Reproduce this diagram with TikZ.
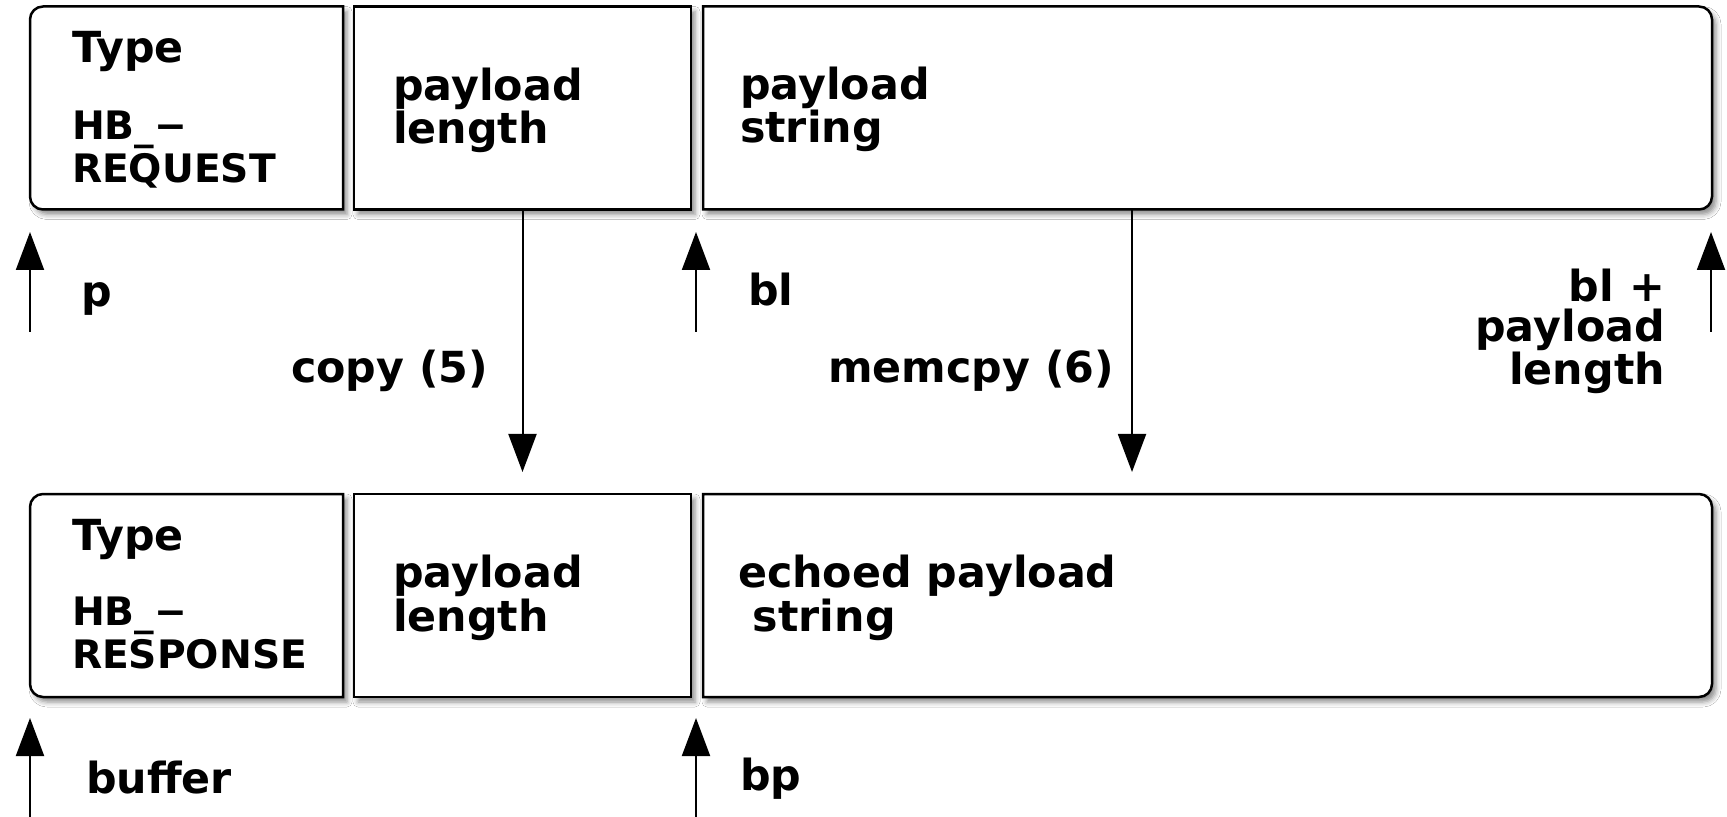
\documentclass[tikz,border=0pt]{standalone}
\usepackage{fontspec}
\setmainfont{DejaVu Sans}
\usetikzlibrary{arrows.meta,shadows.blur}

\tikzset{
  field/.style={rectangle, draw=none, inner sep=0pt, outer sep=0pt,
    minimum height=101.5pt, anchor=north west},
  fieldline/.style={line width=1.25pt, fill=white, line join=miter,
    blur shadow={shadow xshift=2pt, shadow yshift=-2.5pt,
      shadow blur radius=2.5pt, shadow opacity=45}},
  txt/.style={font=\bfseries\fontsize{21.4}{20.5}\selectfont,
    inner sep=0pt, outer sep=0pt, anchor=base west, align=left},
  txtr/.style={txt, anchor=base east, align=right,
    font=\bfseries\fontsize{21.4}{20}\selectfont},
  typetxt/.style={txt, font=\bfseries\fontsize{19.6}{21.5}\selectfont},
  ptr/.style={line width=1pt, draw=black, opacity=1,
    -{Triangle[width=14pt,length=19pt,fill=black]}},
}

\begin{document}
\begin{tikzpicture}[x=0.5pt,y=-0.5pt]
\useasboundingbox (0,0) rectangle (1727,817);
\fill[white] (0,0) rectangle (1727,817);

% ---------- request record ----------
\node[field, minimum width=156.5pt] (reqtype) at (30,6.5) {};
\node[field, minimum width=168.5pt] (reqlen)  at (354,6.5) {};
\node[field, minimum width=504.5pt] (reqstr)  at (703,6.5) {};

\draw[fieldline] (reqtype.north) [rounded corners=6.5pt] -- (reqtype.north west)
  -- (reqtype.south west) -- (reqtype.south) [sharp corners] -- (reqtype.south east)
  -- (reqtype.north east) -- cycle;
\draw[fieldline] (reqlen.north west) rectangle (reqlen.south east);
\draw[fieldline] (reqstr.north) -- (reqstr.north west) -- (reqstr.south west)
  -- (reqstr.south) [rounded corners=6.5pt] -- (reqstr.south east)
  -- (reqstr.north east) -- cycle;

% multi-line labels are placed by the baseline of their last line
\node[txt] (reqtypelbl) at (72,63) {Type};
\node[typetxt] (reqtypeval) at (72,183) {HB\_−\\REQUEST};
\node[txt] (reqlenlbl) at (393,144) {payload\\length};
\node[txt] (reqstrlbl) at (740,143) {payload\\string};

% ---------- response record ----------
\node[field, minimum width=156.5pt] (restype) at (30,494) {};
\node[field, minimum width=168.5pt] (reslen)  at (354,494) {};
\node[field, minimum width=504.5pt] (resstr)  at (703,494) {};

\draw[fieldline] (restype.north) [rounded corners=6.5pt] -- (restype.north west)
  -- (restype.south west) -- (restype.south) [sharp corners] -- (restype.south east)
  -- (restype.north east) -- cycle;
\draw[fieldline] (reslen.north west) rectangle (reslen.south east);
\draw[fieldline] (resstr.north) -- (resstr.north west) -- (resstr.south west)
  -- (resstr.south) [rounded corners=6.5pt] -- (resstr.south east)
  -- (resstr.north east) -- cycle;

\node[txt] (restypelbl) at (72,550) {Type};
\node[typetxt] (restypeval) at (72,668) {HB\_−\\RESPONSE};
\node[txt] (reslenlbl) at (393,631) {payload\\length};
\node[txt] (resstrlbl) at (738,631) {echoed payload\\\ string};

% ---------- pointers into the request ----------
\coordinate (ptip)   at (30,232);   \coordinate (ptail)   at (30,332);
\coordinate (bltip)  at (696,232);  \coordinate (bltail)  at (696,332);
\coordinate (endtip) at (1711,232); \coordinate (endtail) at (1711,332);
\draw[ptr] (ptail) -- (ptip);
\draw[ptr] (bltail) -- (bltip);
\draw[ptr] (endtail) -- (endtip);

\node[txt]  (plbl)   at (81,307)   {p};
\node[txt]  (bllbl)  at (748,306)  {bl};
\node[txtr] (endlbl) at (1665,385) {bl +\\payload\\length};

% ---------- copy operations ----------
\coordinate (copytip) at (522.5,472);
\coordinate (memtip)  at (1132,472);
\draw[ptr] (reqlen.south) -- (copytip);
\draw[ptr] (reqstr.south -| memtip) -- (memtip);

\node[txt] (copylbl) at (291,383) {copy (5)};
\node[txt] (memlbl)  at (828,383) {memcpy (6)};

% ---------- pointers into the response ----------
\coordinate (buftip) at (30,718);  \coordinate (buftail) at (30,817);
\coordinate (bptip)  at (696,718); \coordinate (bptail)  at (696,817);
\draw[ptr] (buftail) -- (buftip);
\draw[ptr] (bptail) -- (bptip);

\node[txt] (buflbl) at (86,793)  {buffer};
\node[txt] (bplbl)  at (740,790) {bp};
\end{tikzpicture}
\end{document}
